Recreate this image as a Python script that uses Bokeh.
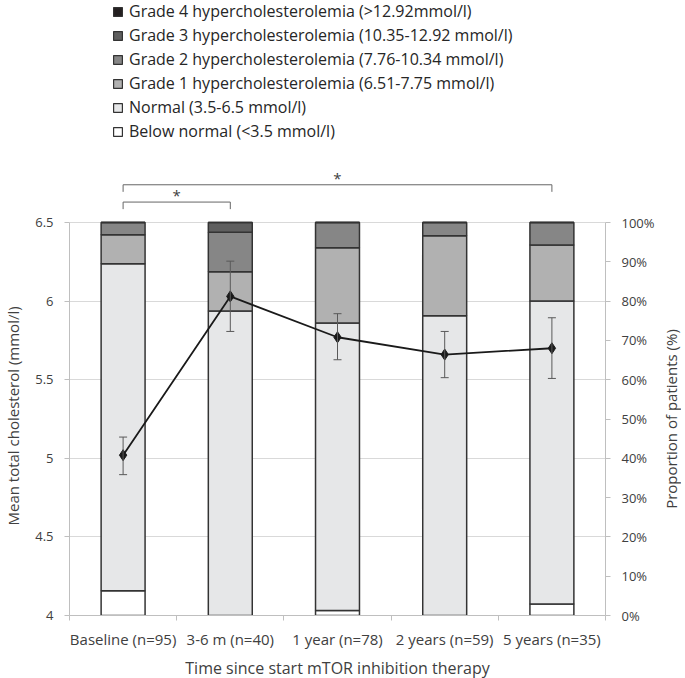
from bokeh.plotting import figure
from bokeh.layouts import column, row
from bokeh.models import (Range1d, LinearAxis, FixedTicker, PrintfTickFormatter,
                          NumeralTickFormatter, Legend, LegendItem, Whisker, TeeHead,
                          ColumnDataSource)
from bokeh.core.properties import value
from bokeh.embed import file_html
from bokeh.resources import INLINE

# ---------------- data ----------------
categories = ["Baseline (n=95)", "3-6 m (n=40)", "1 year (n=78)", "2 years (n=59)", "5 years (n=35)"]
below_normal = [6.3, 0.0, 1.3, 0.0, 2.9]
normal = [83.2, 77.5, 73.1, 76.3, 77.1]
grade1 = [7.4, 10.0, 19.2, 20.3, 14.3]
grade2 = [3.1, 10.0, 6.4, 3.4, 5.7]
grade3 = [0.0, 2.5, 0.0, 0.0, 0.0]
grade4 = [0.0, 0.0, 0.0, 0.0, 0.0]

mean_chol = [5.02, 6.03, 5.77, 5.66, 5.70]
err_upper = [5.135, 6.254, 5.92, 5.807, 5.894]
err_lower = [4.896, 5.807, 5.627, 5.513, 5.508]

series_labels = ["Below normal (<3.5 mmol/l)", "Normal (3.5-6.5 mmol/l)",
                 "Grade 1 hypercholesterolemia (6.51-7.75 mmol/l)",
                 "Grade 2 hypercholesterolemia (7.76-10.34 mmol/l)",
                 "Grade 3 hypercholesterolemia (10.35-12.92 mmol/l)",
                 "Grade 4 hypercholesterolemia (>12.92mmol/l)"]
series_colors = ["#ffffff", "#e6e7e8", "#b1b1b1", "#868686", "#5f5f5f", "#231f20"]

left_ticks = [4, 4.5, 5, 5.5, 6, 6.5]
right_ticks = [0, 10, 20, 30, 40, 50, 60, 70, 80, 90, 100]

comparisons = [(0, 1), (0, 4)]
bracket_heights = [6.63, 6.74]

# ---------------- layout constants ----------------
FRAME_W, PLOT_H, TOP_H, PAD = 536, 393, 212, 10
BL, BR, BB = 67, 52, 60
FONT = "Open Sans"
TXT = "#404040"
AX = "#bfbfbf"
BAR_W = 0.41
YMIN, YMAX = left_ticks[0], left_ticks[-1]
PX = (YMAX - YMIN) / PLOT_H          # mmol per pixel
xc = [i + 0.5 for i in range(len(categories))]
x_range = Range1d(0, len(categories))

# ---------------- top panel: legend + significance brackets ----------------
top = figure(frame_width=FRAME_W, frame_height=TOP_H, output_backend="svg", toolbar_location=None,
             x_range=x_range, y_range=Range1d(YMAX + PAD * PX, YMAX + (PAD + TOP_H) * PX),
             min_border_left=BL, min_border_right=BR, min_border_top=0, min_border_bottom=0,
             x_axis_location=None, y_axis_location=None)
top.outline_line_color = None
top.grid.visible = False
top.border_fill_alpha = 0

drop = 0.045
bxs, bys, sx, sy = [], [], [], []
for (a, b), h in zip(comparisons, bracket_heights):
    bxs.append([xc[a], xc[a], xc[b], xc[b]])
    bys.append([h - drop, h, h, h - drop])
    sx.append((xc[a] + xc[b]) / 2)
    sy.append(h + 0.042)
top.multi_line(bxs, bys, line_color="#666666", line_width=1)
top.text(sx, sy, text=["*"] * len(sx), text_align="center", text_baseline="middle",
         text_font=value(FONT), text_font_size="15px", text_color=TXT)

# legend proxies (one off-screen bar each, only used to draw the legend swatches)
legend_rs = [top.vbar(x=[-10], top=[YMAX], bottom=[YMIN], width=BAR_W, fill_color=c,
                      line_color="#333333", line_width=1.2)
             for c in series_colors]
items = [LegendItem(label=lab, renderers=[r], index=0)
         for lab, r in zip(series_labels, legend_rs)][::-1]
legend = Legend(items=items, location=(43, TOP_H - 142), orientation="vertical",
                glyph_width=11, glyph_height=11, label_height=22, spacing=2,
                padding=0, margin=0, label_standoff=6,
                label_text_font=FONT, label_text_font_size="16px", label_text_color="#262626",
                border_line_color=None, background_fill_alpha=0)
top.add_layout(legend)

# ---------------- main panel ----------------
p = figure(frame_width=FRAME_W, frame_height=PLOT_H + PAD, output_backend="svg",
           toolbar_location=None, x_range=x_range, y_range=Range1d(YMIN, YMAX + PAD * PX),
           min_border_left=BL, min_border_right=BR, min_border_top=0, min_border_bottom=BB,
           x_axis_location=None, y_axis_location=None)
p.outline_line_color = None
p.extra_y_ranges = {"pct": Range1d(0, 100 + 100 * PAD / PLOT_H)}

src = ColumnDataSource(dict(x=xc, below=below_normal, normal=normal, g1=grade1,
                            g2=grade2, g3=grade3, g4=grade4))
stackers = ["below", "normal", "g1", "g2", "g3", "g4"]
p.vbar_stack(stackers, x="x", width=BAR_W, fill_color=series_colors,
             line_color="#333333", line_width=1.5, source=src, y_range_name="pct")

p.xgrid.visible = False
p.ygrid.ticker = FixedTicker(ticks=left_ticks)
p.ygrid.grid_line_color = "#d9d9d9"
p.ygrid.level = "underlay"

# x axis: labels at category centres, ticks at category boundaries
xaxis = LinearAxis(ticker=FixedTicker(ticks=xc, minor_ticks=list(range(len(categories) + 1))),
                   major_label_overrides={v: c for v, c in zip(xc, categories)})
xaxis.major_tick_line_color = None
xaxis.major_tick_out = 0
xaxis.minor_tick_out = 5
xaxis.minor_tick_in = 0
xaxis.minor_tick_line_color = AX
xaxis.axis_line_color = AX
xaxis.major_label_text_font = FONT
xaxis.major_label_text_font_size = "15px"
xaxis.major_label_text_color = TXT
xaxis.major_label_standoff = 8
xaxis.axis_label = "Time since start mTOR inhibition therapy"
xaxis.axis_label_text_font = FONT
xaxis.axis_label_text_font_size = "16px"
xaxis.axis_label_text_font_style = "normal"
xaxis.axis_label_text_color = TXT
xaxis.axis_label_standoff = 5
p.add_layout(xaxis, "below")

# left axis
yaxis = LinearAxis(ticker=FixedTicker(ticks=left_ticks), formatter=NumeralTickFormatter(format="0.[0]"),
                   bounds=(YMIN, YMAX))
yaxis.axis_line_color = AX
yaxis.major_tick_line_color = AX
yaxis.major_tick_out = 5
yaxis.major_tick_in = 0
yaxis.minor_tick_line_color = None
yaxis.major_label_text_font = FONT
yaxis.major_label_text_font_size = "13px"
yaxis.major_label_text_color = TXT
yaxis.major_label_standoff = 11
yaxis.axis_label = "Mean total cholesterol  (mmol/l)"
yaxis.axis_label_text_font = FONT
yaxis.axis_label_text_font_size = "15px"
yaxis.axis_label_text_font_style = "normal"
yaxis.axis_label_text_color = TXT
yaxis.axis_label_standoff = 9
p.add_layout(yaxis, "left")

# right axis (ticks only; its title is drawn in the strip to the right)
raxis = LinearAxis(y_range_name="pct", ticker=FixedTicker(ticks=right_ticks),
                   formatter=PrintfTickFormatter(format="%d%%"), bounds=(0, 100))
raxis.axis_line_color = AX
raxis.major_tick_line_color = AX
raxis.major_tick_out = 5
raxis.major_tick_in = 0
raxis.minor_tick_line_color = None
raxis.major_label_text_font = FONT
raxis.major_label_text_font_size = "13px"
raxis.major_label_text_color = TXT
raxis.major_label_standoff = 11
p.add_layout(raxis, "right")

# mean line with error bars
lsrc = ColumnDataSource(dict(x=xc, y=mean_chol, upper=err_upper, lower=err_lower))
p.add_layout(Whisker(source=lsrc, base="x", upper="upper", lower="lower", level="overlay",
                     line_color="#595959", line_width=1,
                     upper_head=TeeHead(size=8, line_color="#595959", line_width=1),
                     lower_head=TeeHead(size=8, line_color="#595959", line_width=1)))
p.line("x", "y", source=lsrc, line_color="#1a1a1a", line_width=1.8)
p.scatter("x", "y", source=lsrc, marker="diamond", size=11, fill_color="#1a1a1a",
          line_color="#1a1a1a")

# ---------------- right strip carrying the right-hand axis title ----------------
strip = figure(frame_width=1, frame_height=PLOT_H, output_backend="svg", toolbar_location=None,
               x_range=Range1d(0, 1), y_range=Range1d(0, 100),
               min_border_left=22, min_border_right=0, min_border_top=TOP_H + PAD,
               min_border_bottom=BB, x_axis_location=None, y_axis_location=None)
strip.outline_line_color = None
strip.grid.visible = False
strip.border_fill_alpha = 0
strip.background_fill_alpha = 0
saxis = LinearAxis(ticker=FixedTicker(ticks=[]), axis_label="Proportion of patients (%)")
saxis.axis_line_color = None
saxis.major_tick_line_color = None
saxis.minor_tick_line_color = None
saxis.major_tick_out = 0
saxis.major_label_standoff = 0
saxis.axis_label_standoff = 0
saxis.axis_label_text_font = FONT
saxis.axis_label_text_font_size = "15px"
saxis.axis_label_text_font_style = "normal"
saxis.axis_label_text_color = TXT
strip.add_layout(saxis, "left")

layout = row(column(top, p, spacing=0), strip, spacing=0)
open("out.html", "w").write(file_html(layout, INLINE))
